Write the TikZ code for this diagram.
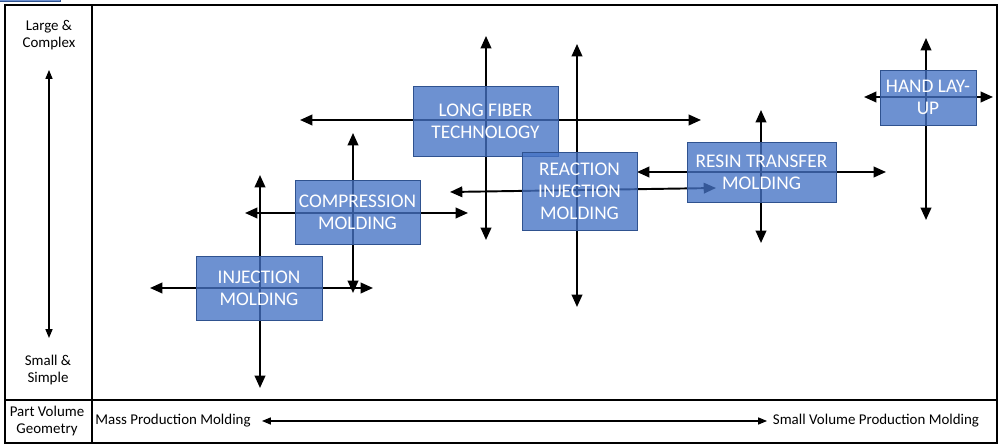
\documentclass[tikz,border=0pt]{standalone}
\usepackage{fontspec}
\setmainfont{Carlito}
\usetikzlibrary{arrows.meta}
\definecolor{boxfill}{HTML}{4472C4}
\definecolor{boxline}{HTML}{2F528F}
\tikzset{
  ax/.style={{Triangle[length=7pt,width=6pt]}-{Triangle[length=7pt,width=6pt]}, line width=1.1pt},
  tbox/.style={draw=boxline, fill=boxfill, fill opacity=0.78, text opacity=1, text=white, align=center, font=\fontsize{11}{12.5}\selectfont, inner sep=0pt},
  lbl/.style={font=\fontsize{8.5}{10}\selectfont, align=center},
}
\begin{document}
\begin{tikzpicture}[x=0.02cm,y=-0.02cm]
\useasboundingbox (0,0) rectangle (1000,448);
\draw[line width=0.8pt] (5,5) rectangle (997,443);
\draw[line width=0.8pt] (92,5) -- (92,443);
\draw[line width=0.8pt] (5,400) -- (997,400);
\node[lbl] (lc) at (49,35) {Large \&\\Complex};
\node[lbl] (ss) at (48,370) {Small \&\\Simple};
\coordinate (la) at (49,70); \coordinate (lb) at (49,338);
\draw[{Triangle[length=5pt,width=4pt]}-{Triangle[length=5pt,width=4pt]}, line width=0.6pt] (la) -- (lb);
\node[lbl] (pv) at (47,421) {Part Volume\\Geometry};
\node[lbl] (mp) at (173,421) {Mass Production Molding};
\node[lbl] (sv) at (876,421) {Small Volume Production Molding};
\coordinate (ba) at (262,421); \coordinate (bb) at (767,421);
\draw[{Triangle[length=5pt,width=4pt]}-{Triangle[length=5pt,width=4pt]}, line width=0.6pt] (ba) -- (bb);
% axes
\coordinate (i1) at (260,175); \coordinate (i2) at (260,388);
\coordinate (i3) at (150,288); \coordinate (i4) at (373,288);
\coordinate (c1) at (353,133); \coordinate (c2) at (353,293);
\coordinate (c3) at (245,213); \coordinate (c4) at (468,213);
\coordinate (f1) at (486,36); \coordinate (f2) at (486,240);
\coordinate (f3) at (300,120); \coordinate (f4) at (701,120);
\coordinate (r1) at (577,44); \coordinate (r2) at (577,307);
\coordinate (r3) at (450,192); \coordinate (r4) at (716,188);
\coordinate (t1) at (761,110); \coordinate (t2) at (761,243);
\coordinate (t3) at (637,172); \coordinate (t4) at (886,172);
\coordinate (h1) at (926,38); \coordinate (h2) at (926,220);
\coordinate (h3) at (864,97); \coordinate (h4) at (993,97);
\foreach \a/\b in {i1/i2,i3/i4,c1/c2,c3/c4,f1/f2,f3/f4,r1/r2,r3/r4,t1/t2,t3/t4,h1/h2,h3/h4}
  \draw[ax] (\a) -- (\b);
\node[tbox, minimum width=126\pgflinewidth, text width=2.4cm] at (0,0) {};
\node[tbox, minimum width=2.52cm, minimum height=1.28cm] (im) at (259,288) {INJECTION\\MOLDING};
\node[tbox, minimum width=2.5cm, minimum height=1.28cm] (cm) at (357.5,212) {COMPRESSION\\MOLDING};
\node[tbox, minimum width=2.9cm, minimum height=1.4cm] (lf) at (485.5,121) {LONG FIBER\\TECHNOLOGY};
\node[tbox, minimum width=2.3cm, minimum height=1.56cm] (ri) at (579.5,191) {REACTION\\INJECTION\\MOLDING};
\node[tbox, minimum width=2.98cm, minimum height=1.2cm] (rt) at (761.5,172) {RESIN TRANSFER\\MOLDING};
\node[tbox, minimum width=1.92cm, minimum height=1.1cm] (hl) at (928,97.5) {HAND LAY-\\UP};
\end{tikzpicture}
\end{document}
